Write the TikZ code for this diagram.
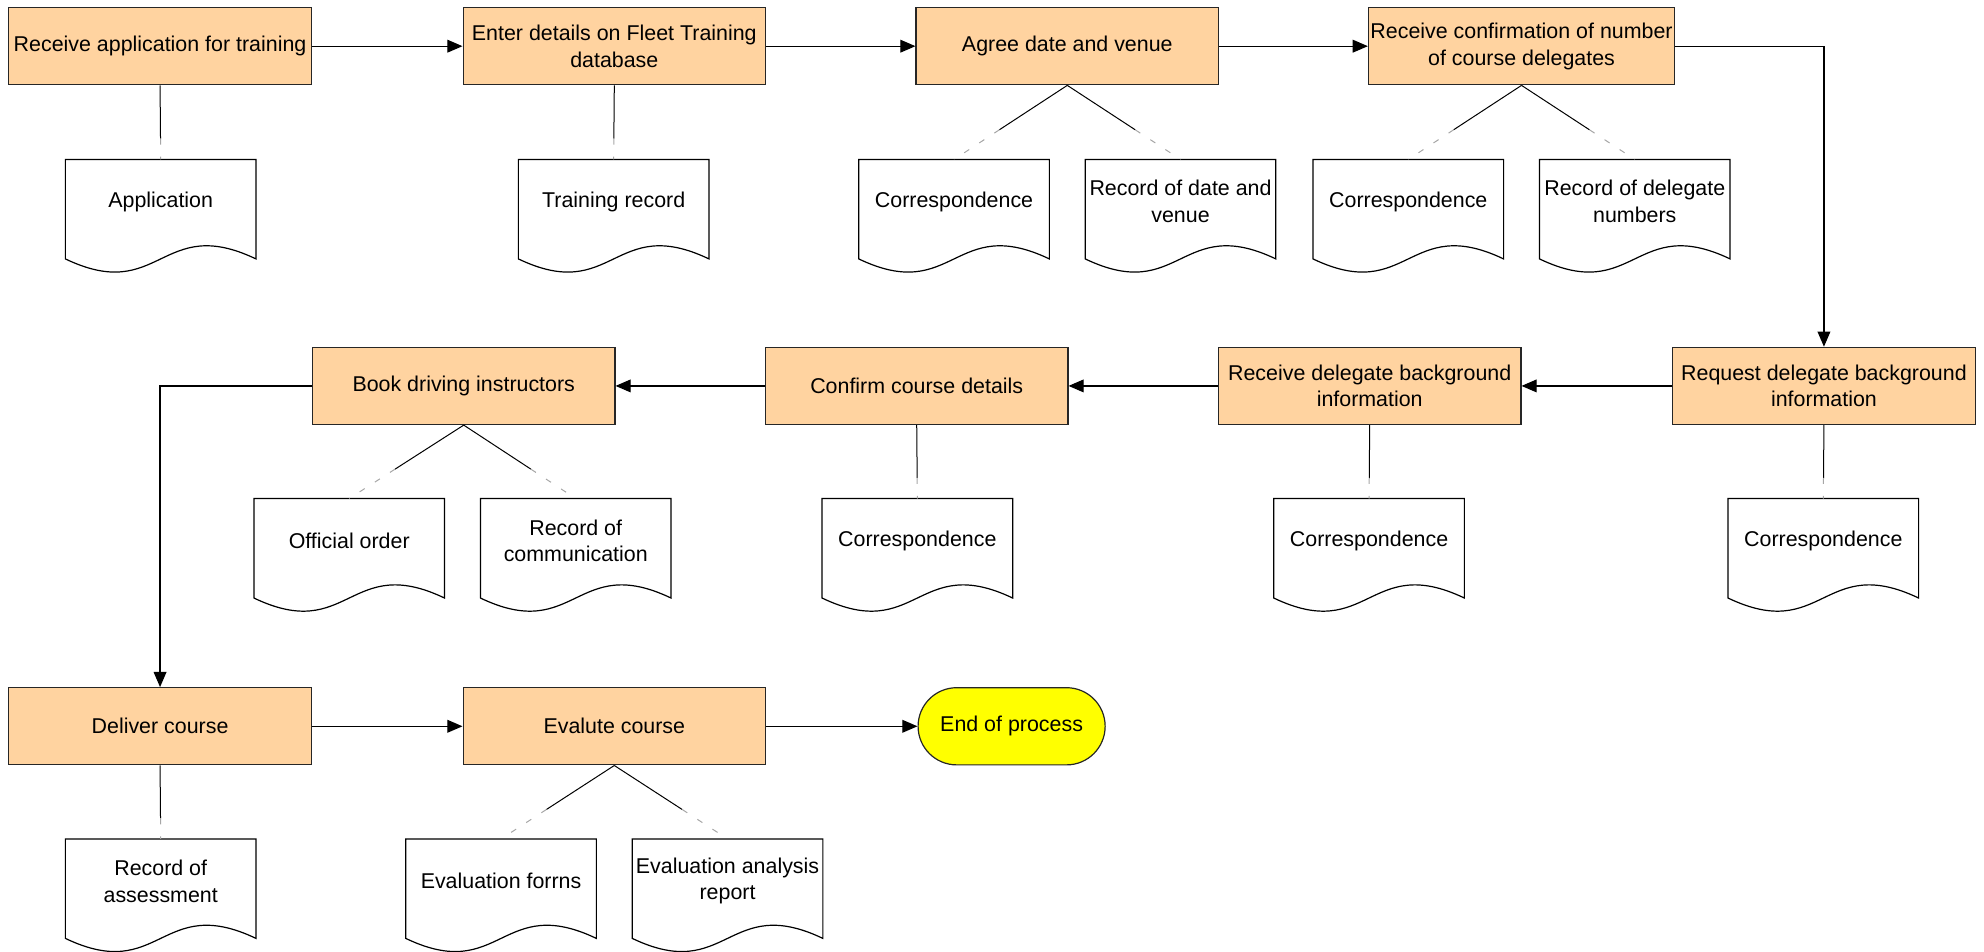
\documentclass[tikz,border=0pt]{standalone}
\usepackage{fontspec}
\setmainfont{Liberation Sans}
\usetikzlibrary{arrows.meta,calc,shapes.misc}
\newcommand{\spx}{0.63265pt}
\definecolor{boxfill}{RGB}{255,211,160}
\definecolor{endfill}{RGB}{255,255,0}
\tikzset{
  proc/.style={draw=black!85, fill=boxfill, line width=0.6pt, minimum width=239*\spx, minimum height=61*\spx, align=center, inner sep=1pt},
  endnode/.style={draw=black!85, fill=endfill, line width=0.6pt, rounded rectangle, minimum width=151*\spx, minimum height=61*\spx, align=center, inner sep=1pt},
  docnode/.style={anchor=north, minimum width=150*\spx, minimum height=66*\spx, align=center, inner sep=0pt},
  flow/.style={line width=0.6pt, -{Triangle[length=7.6pt,width=6.4pt]}},
  link/.style={line width=0.5pt},
  linkfade/.style={line width=0.5pt, black!35, dash pattern=on 3pt off 6pt},
}
\newcommand{\docoutline}[1]{%
  \draw[line width=0.6pt] (#1.north west) -- ($(#1.south west)+(0,12)$)
    .. controls ($(#1.south)+(0,48)$) and ($(#1.south)+(0,-24)$) .. ($(#1.south east)+(0,12)$)
    -- (#1.north east) -- cycle;}
\newcommand{\doclink}[3][0.6]{%
  \draw[link] (#2.south) -- ($(#2.south)!#1!(#3.north)$);
  \draw[linkfade] ($(#2.south)!#1!(#3.north)$) -- (#3.north);}
\begin{document}
\begin{tikzpicture}[x=\spx, y=-\spx, font=\fontsize{10.7}{13.3}\selectfont]
\useasboundingbox (0,0) rectangle (1568,752);
% process boxes
\node[proc] (b1) at (126.5,36.5) {Receive application for training};
\node[proc] (b2) at (485.5,36.5) {Enter details on Fleet Training\\database};
\node[proc] (b3) at (843.5,36.5) {Agree date and venue};
\node[proc] (b4) at (1202.5,36.5) {Receive confirmation of number\\of course delegates};
\node[proc] (c1) at (366.5,305) {Book driving instructors};
\node[proc] (c2) at (724.5,305) {Confirm course details};
\node[proc] (c3) at (1082.5,305) {Receive delegate background\\information};
\node[proc] (c4) at (1441.5,305) {Request delegate background\\information};
\node[proc] (e1) at (126.5,574) {Deliver course};
\node[proc] (e2) at (485.5,574) {Evalute course};
\node[endnode] (e3) at (799.5,574) {End of process};
% documents
\node[docnode] (d1) at (127,126) {Application};
\node[docnode] (d2) at (485,126) {Training record};
\node[docnode] (d3) at (754,126) {Correspondence};
\node[docnode] (d4) at (933,126) {Record of date and\\venue};
\node[docnode] (d5) at (1113,126) {Correspondence};
\node[docnode] (d6) at (1292,126) {Record of delegate\\numbers};
\node[docnode] (f1) at (276,394) {Official order};
\node[docnode] (f2) at (455,394) {Record of\\communication};
\node[docnode] (f3) at (725,394) {Correspondence};
\node[docnode] (f4) at (1082,394) {Correspondence};
\node[docnode] (f5) at (1441,394) {Correspondence};
\node[docnode] (g1) at (127,663) {Record of\\assessment};
\node[docnode] (g2) at (396,663) {Evaluation forrns};
\node[docnode] (g3) at (575,663) {Evaluation analysis\\report};
\foreach \n in {d1,d2,d3,d4,d5,d6,f1,f2,f3,f4,f5,g1,g2,g3}{\docoutline{\n}}
% document links
\doclink[0.72]{b1}{d1}
\doclink[0.72]{b2}{d2}
\doclink{b3}{d3}
\doclink{b3}{d4}
\doclink{b4}{d5}
\doclink{b4}{d6}
\doclink{c1}{f1}
\doclink{c1}{f2}
\doclink[0.72]{c2}{f3}
\doclink[0.72]{c3}{f4}
\doclink[0.72]{c4}{f5}
\doclink[0.72]{e1}{g1}
\doclink{e2}{g2}
\doclink{e2}{g3}
% flow
\draw[flow] (b1) -- (b2);
\draw[flow] (b2) -- (b3);
\draw[flow] (b3) -- (b4);
\draw[flow] (b4.east) -| (c4.north);
\draw[flow] (c4) -- (c3);
\draw[flow] (c3) -- (c2);
\draw[flow] (c2) -- (c1);
\draw[flow] (c1.west) -| (e1.north);
\draw[flow] (e1) -- (e2);
\draw[flow] (e2) -- (e3);
\end{tikzpicture}
\end{document}
